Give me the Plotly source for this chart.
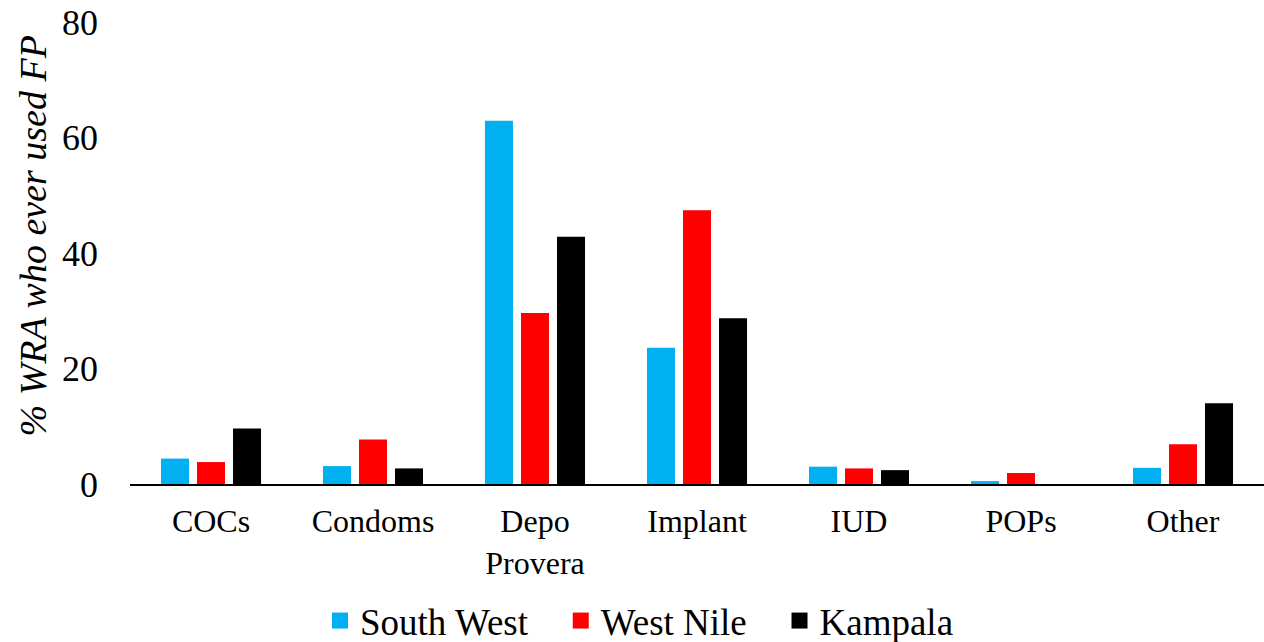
import plotly.graph_objects as go

methods = ["COCs", "Condoms", "Depo<br>Provera", "Implant", "IUD", "POPs", "Other"]
south_west = [4.4, 3.1, 62.9, 23.6, 3.0, 0.5, 2.8]
west_nile = [3.8, 7.7, 29.6, 47.4, 2.7, 1.9, 6.9]
kampala = [9.6, 2.7, 42.8, 28.7, 2.4, 0.0, 14.0]

y_ticks = [0, 20, 40, 60, 80]

FONT = "Liberation Serif"
GAP = "\u00a0\u00a0\u00a0"

series = [
    ("South West", south_west, "#00B0F0", GAP),
    ("West Nile", west_nile, "#FF0000", GAP),
    ("Kampala", kampala, "#000000", ""),
]

fig = go.Figure()
for name, vals, color, pad in series:
    fig.add_trace(go.Bar(
        name=name, x=methods, y=vals, showlegend=False,
        marker=dict(color=color, line=dict(width=0)),
    ))
# legend keys: square swatches for each region
for name, vals, color, pad in series:
    fig.add_trace(go.Scatter(
        name=name + pad, x=[None], y=[None], mode="markers",
        marker=dict(symbol="square", size=16, color=color),
    ))

fig.update_layout(
    width=1264, height=642,
    margin=dict(l=130, r=0, t=22, b=158),
    paper_bgcolor="white", plot_bgcolor="white",
    barmode="group", bargap=0.333, bargroupgap=0.222,
    font=dict(family=FONT, color="black", size=32),
    showlegend=True,
    legend=dict(
        orientation="h", xref="container", yref="container",
        x=320 / 1264, xanchor="left", y=1 - 621 / 642, yanchor="middle",
        font=dict(size=37, family=FONT), itemwidth=30,
    ),
    annotations=[dict(
        text="<i>% WRA who ever used FP</i>", textangle=-90,
        xref="paper", yref="paper", x=(32 - 130) / 1134, y=(484 - 236.5) / 462,
        xanchor="center", yanchor="middle", showarrow=False,
        font=dict(size=38, family=FONT),
    )],
)
fig.update_xaxes(
    showline=True, linecolor="black", linewidth=2,
    ticks="", showgrid=False, ticklabelstandoff=8,
    tickfont=dict(size=32, family=FONT),
)
fig.update_yaxes(
    range=[0, 80], tickvals=y_ticks, showline=False, showgrid=False,
    zeroline=False, ticks="", ticklabelstandoff=31,
    tickfont=dict(size=36, family=FONT),
)

fig.write_html("out.html")
